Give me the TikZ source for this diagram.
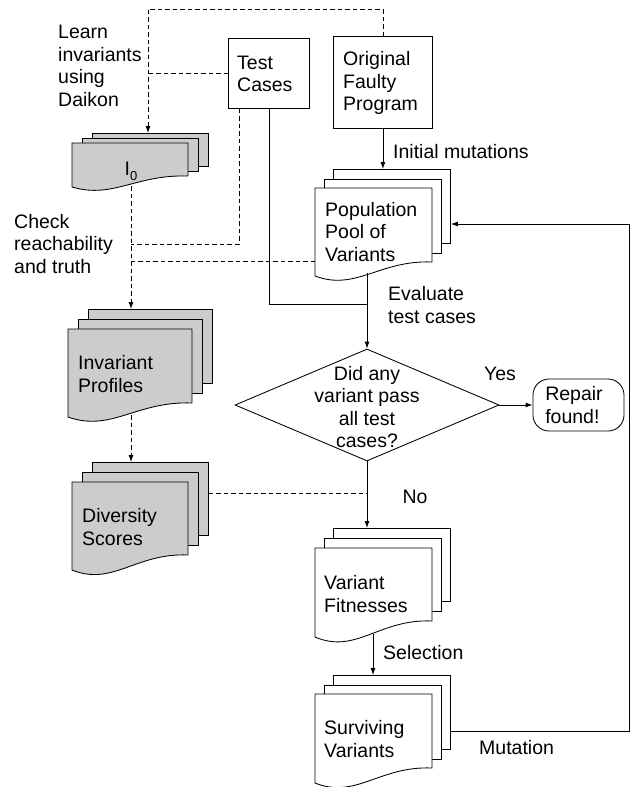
\documentclass[tikz,border=0pt]{standalone}
\usepackage{fontspec}
\setmainfont{Liberation Sans}
\usetikzlibrary{arrows.meta,shapes.geometric}
\definecolor{docgray}{RGB}{204,204,204}
\tikzset{
  ln/.style={line width=0.85pt},
  tip/.style={-{Latex[length=7pt,width=5pt]}},
  arr/.style={ln,tip},
  dsh/.style={ln,dash pattern=on 4.5pt off 3pt},
  docbox/.style={draw,ln,inner sep=0pt},
  procbox/.style={draw,ln,inner sep=0pt,align=left},
  lbl/.style={inner sep=0pt,align=left,anchor=west},
}
\newcommand{\docstack}[9]{%
  \node[docbox, fill=#9, minimum width=#4, minimum height=#5-#6, anchor=north west] (#1-b2) at ({#2+2*#7},{#3-2*#8}) {};
  \node[docbox, fill=#9, minimum width=#4, minimum height=#5-#6, anchor=north west] (#1-b1) at ({#2+#7},{#3-#8}) {};
  \draw[ln,fill=#9] (#2+#4,#3+#5-#6) .. controls (#2+0.55*#4,#3+#5-1.15*#6) and (#2+0.35*#4,#3+#5+1.1*#6) .. (#2,#3+#5) -- (#2,#3) -- (#2+#4,#3) -- cycle;
  \node[inner sep=0pt, minimum width=#4, minimum height=#5-#6, anchor=north west] (#1) at (#2,#3) {};
}
\begin{document}
\begin{tikzpicture}[x=1pt,y=-1pt,font=\fontsize{19.5}{22.5}\selectfont]
\useasboundingbox (0,0) rectangle (636,787);

% process boxes
\node[procbox, minimum width=99, minimum height=92, anchor=north west] (orig) at (333,36) {};
\node[lbl] (origtxt) at (343,83) {Original\\Faulty\\Program};
\node[procbox, minimum width=81, minimum height=70, anchor=north west] (test) at (228,38) {};
\node[lbl] (testtxt) at (237,74) {Test\\Cases};

% document stacks
\docstack{i0}{72}{143}{116}{44}{11}{10}{5}{docgray}
\node[inner sep=0pt] (i0txt) at (131,171) {I\raisebox{-5pt}{\fontsize{13}{13}\selectfont 0}};
\docstack{inv}{68}{329}{124}{88}{14}{10}{10}{docgray}
\node[lbl] (invtxt) at (78,374) {Invariant\\Profiles};
\docstack{div}{72}{482}{116}{88}{15}{10}{10}{docgray}
\node[lbl] (divtxt) at (82,527) {Diversity\\Scores};
\docstack{pop}{315}{188}{117}{88}{14}{9}{9.5}{white}
\node[lbl] (poptxt) at (325,232) {Population\\Pool of\\Variants};
\docstack{fit}{315}{548}{117}{89}{16}{9}{10}{white}
\node[lbl] (fittxt) at (324,594) {Variant\\Fitnesses};
\docstack{surv}{315}{694}{117}{89}{15}{9}{9.5}{white}
\node[lbl] (survtxt) at (324,739) {Surviving\\Variants};

% decision and terminal
\node[diamond, draw, ln, aspect=2.357, minimum width=264, minimum height=112, inner sep=0pt] (dec) at (367,405) {};
\node[inner sep=0pt, align=center] (dectxt) at (367,407) {Did any\\variant pass\\all test\\cases?};
\node[draw, ln, rounded corners=16pt, minimum width=91, minimum height=52, inner sep=0pt, align=left] (repair) at (578.5,405) {\hspace*{-9pt}Repair\\\hspace*{-9pt}found!};

% coordinates
\coordinate (tl) at (148,9);
\coordinate (i0out) at (131,186);
\coordinate (invout) at (131,415);
\coordinate (tcd) at (239,244);
\coordinate (popL) at (315,261);
\coordinate (popOut) at (367,273);
\coordinate (evalJ) at (367,304);
\coordinate (noJ) at (367,493);
\coordinate (selOut) at (373,634);
\coordinate (loopA) at (629,731);
\coordinate (loopB) at (629,224);

% solid flow
\draw[arr] (orig.south) -- (orig.south |- pop-b2.north);
\draw[ln] (test.south) |- (evalJ);
\draw[arr] (popOut) -- (dec.north);
\draw[arr] (dec.east) -- (repair.west);
\draw[arr] (dec.south) -- (dec.south |- fit-b2.north);
\draw[arr] (selOut) -- (selOut |- surv-b2.north);
\draw[arr] (loopA -| surv-b2.east) -- (loopA) -- (loopB) -- (loopB -| pop-b2.east);

% dashed flow
\draw[dsh,tip] (orig.north) |- (tl) -- (tl |- i0-b2.north);
\draw[dsh] (test.west) -- (test.west -| tl);
\draw[dsh] (tcd |- test.south) -- (tcd) -- (tcd -| i0out);
\draw[dsh] (popL) -- (popL -| i0out);
\draw[dsh,tip] (i0out) -- (i0out |- inv-b2.north);
\draw[dsh,tip] (invout) -- (invout |- div-b2.north);
\draw[dsh] (noJ -| div-b2.east) -- (noJ);

% labels
\node[lbl] (learn) at (58,66) {Learn\\invariants\\using\\Daikon};
\node[lbl] (check) at (14,244) {Check\\reachability\\and truth};
\node[lbl] (initmut) at (393,152) {Initial mutations};
\node[lbl] (evaltc) at (388,305) {Evaluate\\test cases};
\node[inner sep=0pt] (yes) at (500,374) {Yes};
\node[inner sep=0pt] (no) at (415,497) {No};
\node[lbl] (sel) at (383,653) {Selection};
\node[lbl] (mut) at (479,748) {Mutation};
\end{tikzpicture}
\end{document}
